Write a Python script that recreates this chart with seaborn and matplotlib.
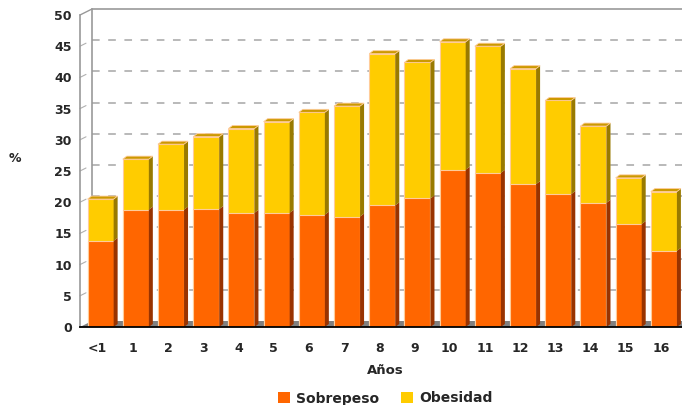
import matplotlib
matplotlib.use("Agg")
import matplotlib.pyplot as plt
import pandas as pd
import seaborn as sns
from matplotlib.lines import Line2D
from matplotlib.patches import Patch, Polygon
from matplotlib.transforms import IdentityTransform

# valores (%)
edades = ["<1", "1", "2", "3", "4", "5", "6", "7", "8", "9",
          "10", "11", "12", "13", "14", "15", "16"]
sobrepeso = [13.8, 18.8, 18.8, 18.9, 18.3, 18.3, 18.0, 17.7, 19.5,
             20.6, 25.2, 24.7, 22.9, 21.3, 19.9, 16.5, 12.2]
obesidad = [6.7, 8.1, 10.5, 11.6, 13.5, 14.6, 16.4, 17.7, 24.3,
            21.8, 20.5, 20.3, 18.5, 15.0, 12.3, 7.4, 9.5]
yticks = list(range(0, 55, 5))

NARANJA = "#FF6600"
AMARILLO = "#FFCC00"
BORDE = "#FFCC99"
LADO_NARANJA = "#993300"
LADO_AMARILLO = "#997A00"
TAPA_AMARILLO = "#CC9900"
GRIS = "#808080"

sns.set_style("white")
plt.rcParams["font.family"] = ["DejaVu Sans"]

df = pd.DataFrame({"edad": edades, "sobrepeso": sobrepeso, "obesidad": obesidad})
df["total"] = df["sobrepeso"] + df["obesidad"]

W, H = 682, 405
fig = plt.figure(figsize=(W / 100, H / 100), dpi=100)
ax = fig.add_axes([80 / W, 78 / H, 602 / W, 312 / H])

sns.barplot(data=df, x="edad", y="total", order=edades, color=AMARILLO,
            saturation=1, width=0.74, edgecolor=BORDE, linewidth=0.8,
            errorbar=None, ax=ax, zorder=3)
sns.barplot(data=df, x="edad", y="sobrepeso", order=edades, color=NARANJA,
            saturation=1, width=0.74, edgecolor=BORDE, linewidth=0.8,
            errorbar=None, ax=ax, zorder=3)

ax.set_xlim(-0.5, 16.6)
ax.set_ylim(0, 50)
ax.set_xlabel("")
ax.set_ylabel("")

def px(x, y):
    return ax.transData.transform((x, y))

# bars sit in the middle of the depth, a few pixels right of the category
unit = px(1, 0)[0] - px(0, 0)[0]
shift = 3 / unit
for p in ax.patches:
    p.set_x(p.get_x() + shift)

# walls / floor of the pseudo 3D frame
WX, WY = 12, 6
xl, y0 = px(-0.5, 0)
xr = W + 20
_, y50 = px(-0.5, 50)
ident = IdentityTransform()

ax.add_patch(Polygon([(xl, y0), (xr, y0), (xr + WX, y0 + WY), (xl + WX, y0 + WY)],
                     closed=True, transform=ident, facecolor=GRIS,
                     edgecolor="none", zorder=1, clip_on=False))
for v in yticks[1:-1]:
    _, yv = px(0, v)
    ax.add_line(Line2D([xl + WX, xr], [yv + WY, yv + WY], transform=ident,
                       color="#A6A6A6", linewidth=1.1, dashes=(5.0, 5.6),
                       zorder=0.5, clip_on=False))
    ax.add_line(Line2D([xl, xl + WX * 0.5], [yv, yv + WY * 0.5], transform=ident,
                       color="#B0B0B0", linewidth=0.8, zorder=0.5, clip_on=False))
ax.add_line(Line2D([xl + WX, xr], [y50 + WY, y50 + WY], transform=ident,
                   color="#999999", linewidth=1.2, zorder=0.5, clip_on=False))
ax.add_line(Line2D([xl + WX, xl + WX], [y0 + WY, y50 + WY], transform=ident,
                   color="#999999", linewidth=1.2, zorder=0.5, clip_on=False))
ax.add_line(Line2D([xl, xl + WX], [y50, y50 + WY], transform=ident,
                   color="#999999", linewidth=1.0, zorder=0.5, clip_on=False))

# depth faces of every bar
DX, DY = 4, 3
n = len(edades)
for i in range(n):
    pt = ax.patches[i]
    x0 = pt.get_x()
    x1 = x0 + pt.get_width()
    X0, Ys = px(x0, sobrepeso[i])
    X1, Yt = px(x1, sobrepeso[i] + obesidad[i])
    _, Yb = px(x1, 0)
    ax.add_patch(Polygon([(X1, Yb), (X1 + DX, Yb + DY), (X1 + DX, Ys + DY), (X1, Ys)],
                         closed=True, transform=ident, facecolor=LADO_NARANJA,
                         edgecolor="none", zorder=3.5))
    ax.add_patch(Polygon([(X1, Ys), (X1 + DX, Ys + DY), (X1 + DX, Yt + DY), (X1, Yt)],
                         closed=True, transform=ident, facecolor=LADO_AMARILLO,
                         edgecolor="none", zorder=3.5))
    ax.add_patch(Polygon([(X0, Yt), (X0 + DX, Yt + DY), (X1 + DX, Yt + DY), (X1, Yt)],
                         closed=True, transform=ident, facecolor=TAPA_AMARILLO,
                         edgecolor=BORDE, linewidth=0.6, zorder=3.5))

# axes styling
for s in ["top", "right"]:
    ax.spines[s].set_visible(False)
ax.spines["left"].set_color("#999999")
ax.spines["left"].set_linewidth(1.2)
ax.spines["bottom"].set_color("black")
ax.spines["bottom"].set_linewidth(1.3)
ax.spines["bottom"].set_zorder(4)

ax.set_yticks(yticks)
ax.tick_params(axis="y", length=4, width=1, color="#999999", pad=2,
               labelsize=9)
ax.set_xticks(range(n))
ax.set_xticklabels(edades)
ax.set_xticks([i - 0.5 for i in range(n + 1)], minor=True)
ax.tick_params(axis="x", which="major", length=0, pad=11, labelsize=9)
ax.tick_params(axis="x", which="minor", length=4, width=1, color="black")
for lab in ax.get_xticklabels() + ax.get_yticklabels():
    lab.set_fontweight("bold")

fig.text(385 / W, 1 - 370 / H, "Años", ha="center", va="center",
         fontsize=9.5, fontweight="bold")
fig.text(15 / W, 1 - 158 / H, "%", ha="center", va="center",
         fontsize=9, fontweight="bold")

handles = [Patch(facecolor=NARANJA, edgecolor="none", label="Sobrepeso"),
           Patch(facecolor=AMARILLO, edgecolor="none", label="Obesidad")]
leg = fig.legend(handles=handles, loc="center", bbox_to_anchor=(385 / W, 1 - 398.5 / H),
                 ncol=2, frameon=False, handlelength=0.9, handleheight=0.9,
                 handletextpad=0.4, columnspacing=1.6,
                 prop={"size": 10, "weight": "bold"})

fig.savefig("out.png", dpi=100)
